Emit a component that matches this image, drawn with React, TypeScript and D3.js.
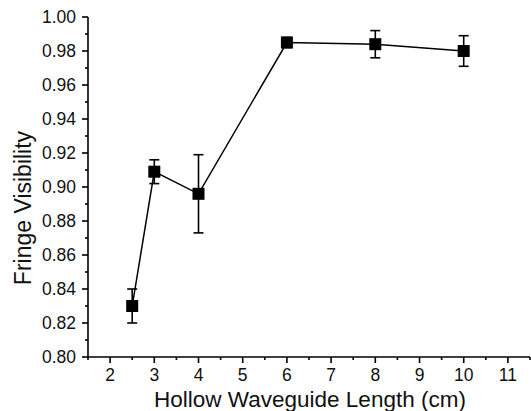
import React from "react";
import * as d3 from "d3";

const lengths = [2.5, 3, 4, 6, 8, 10];
const visibility = [0.830, 0.909, 0.896, 0.985, 0.984, 0.980];
const errLow = [0.820, 0.902, 0.873, 0.982, 0.976, 0.971];
const errHigh = [0.840, 0.916, 0.919, 0.988, 0.992, 0.989];
const xTicks = [2, 3, 4, 5, 6, 7, 8, 9, 10, 11];
const yTicks = [0.80, 0.82, 0.84, 0.86, 0.88, 0.90, 0.92, 0.94, 0.96, 0.98, 1.00];

const W = 531, H = 411;
const left = 88, right = 530, top = 17, bottom = 357;

export default function App() {
  const x = d3.scaleLinear().domain([1.5, 11.5]).range([left, right]);
  const y = d3.scaleLinear().domain([0.8, 1.0]).range([bottom, top]);
  const line = d3.line<number>().x((_, i) => x(lengths[i])).y((d) => y(d));
  const xMinor = d3.range(1.5, 11.51, 0.5).filter((v) => !xTicks.includes(v));
  const yMinor = d3.range(0.81, 1.0, 0.02);
  const font = "'Liberation Sans', Arial, sans-serif";
  return (
    <svg width={W} height={H} style={{ position: "absolute", left: 0, top: 0, background: "#fff" }}>
      <rect width={W} height={H} fill="#fff" />
      <g stroke="#000" strokeWidth={1.6} fill="none">
        <line x1={left} x2={left} y1={top} y2={bottom} />
        <line x1={left} x2={right} y1={bottom} y2={bottom} />
        {yTicks.map((t) => (
          <line key={t} x1={left - 6} x2={left} y1={y(t)} y2={y(t)} />
        ))}
        {yMinor.map((t) => (
          <line key={t} x1={left - 3} x2={left} y1={y(t)} y2={y(t)} />
        ))}
        {xTicks.map((t) => (
          <line key={t} x1={x(t)} x2={x(t)} y1={bottom} y2={bottom + 6} />
        ))}
        {xMinor.map((t) => (
          <line key={t} x1={x(t)} x2={x(t)} y1={bottom} y2={bottom + 3} />
        ))}
      </g>
      <g fontFamily={font} fontSize={17.5} fill="#111">
        {yTicks.map((t) => (
          <text key={t} x={left - 12} y={y(t)} dy="0.36em" textAnchor="end">
            {t.toFixed(2)}
          </text>
        ))}
        {xTicks.map((t) => (
          <text key={t} x={x(t)} y={bottom + 24} textAnchor="middle">
            {t}
          </text>
        ))}
      </g>
      <text x={(137 + 483) / 2} y={407} textAnchor="middle" fontFamily={font} fontSize={22.5} fill="#111">
        Hollow Waveguide Length (cm)
      </text>
      <text transform={`translate(31,208) rotate(-90)`} textAnchor="middle" fontFamily={font} fontSize={23} fill="#111">
        Fringe Visibility
      </text>
      <path d={line(visibility) ?? ""} fill="none" stroke="#000" strokeWidth={1.5} />
      <g stroke="#000" strokeWidth={1.6}>
        {lengths.map((l, i) => (
          <g key={l}>
            <line x1={x(l)} x2={x(l)} y1={y(errLow[i])} y2={y(errHigh[i])} />
            <line x1={x(l) - 5} x2={x(l) + 5} y1={y(errLow[i])} y2={y(errLow[i])} />
            <line x1={x(l) - 5} x2={x(l) + 5} y1={y(errHigh[i])} y2={y(errHigh[i])} />
          </g>
        ))}
      </g>
      <g fill="#000">
        {lengths.map((l, i) => (
          <rect key={l} x={x(l) - 6} y={y(visibility[i]) - 6} width={12} height={12} />
        ))}
      </g>
    </svg>
  );
}
